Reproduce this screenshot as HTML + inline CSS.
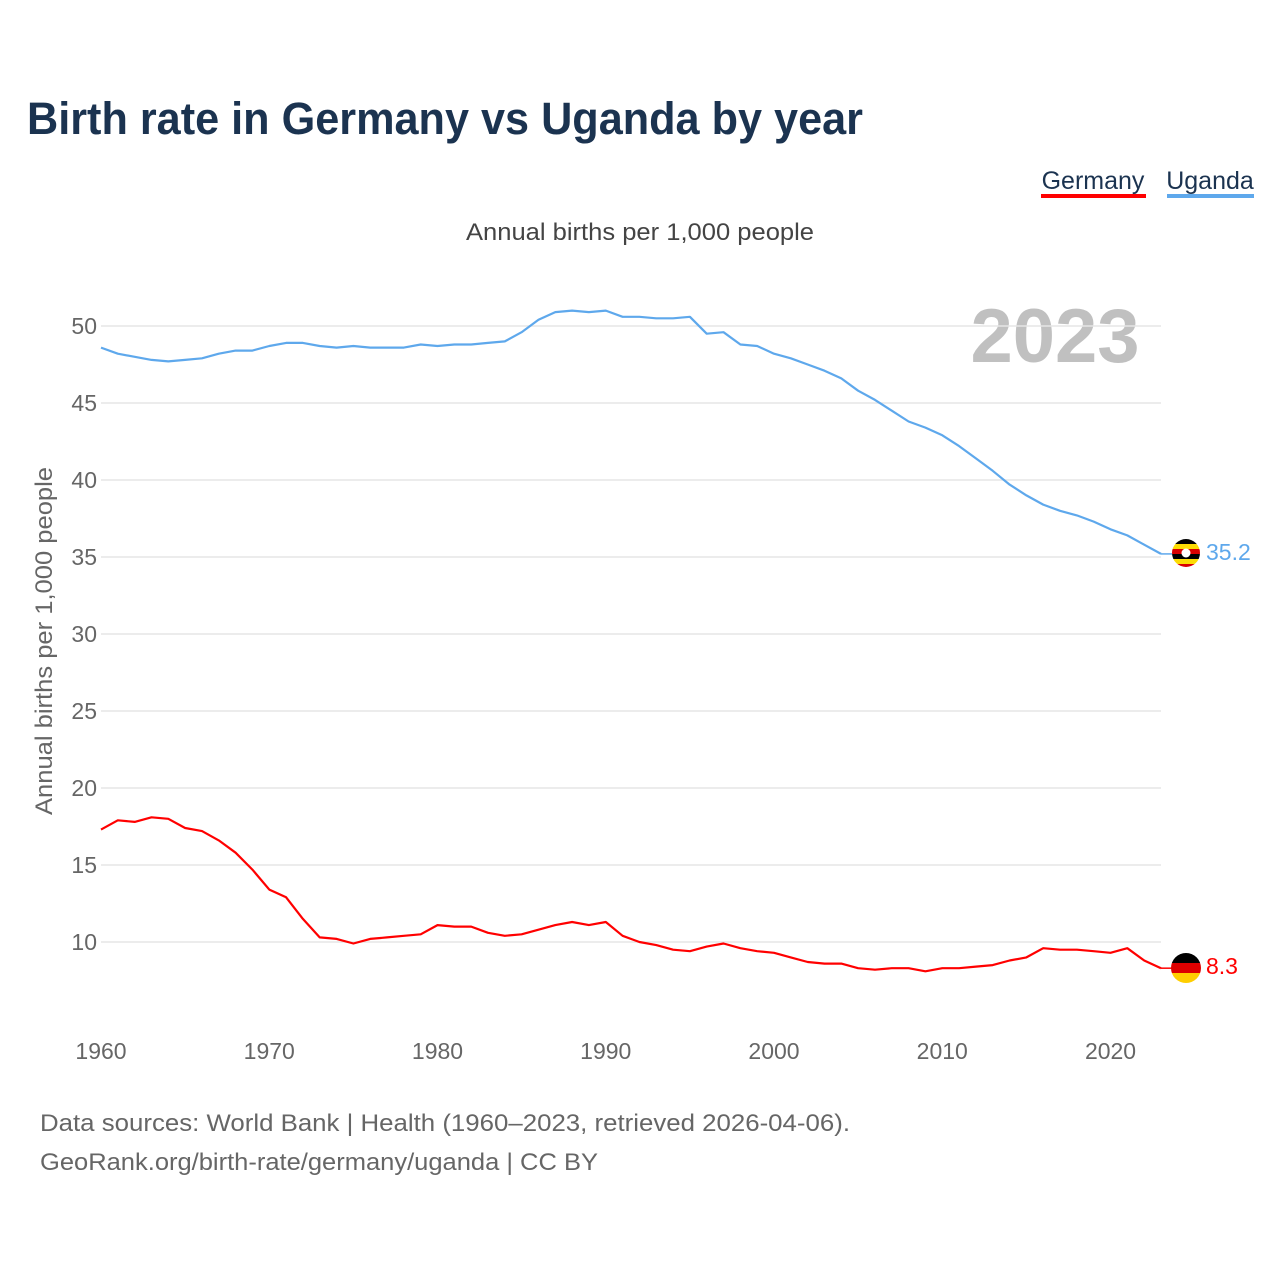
<!DOCTYPE html>
<html><head><meta charset="utf-8"><style>
body{margin:0;background:#fff;font-family:"Liberation Sans",sans-serif;}
</style></head><body>
<svg width="1280" height="1280" viewBox="0 0 1280 1280" xmlns="http://www.w3.org/2000/svg">
<rect width="1280" height="1280" fill="#fff"/>
<text x="27" y="134" font-size="45" font-weight="bold" fill="#1b3350" textLength="836" lengthAdjust="spacingAndGlyphs">Birth rate in Germany vs Uganda by year</text>
<g><text x="1093" y="189" font-size="25" fill="#1b3350" text-anchor="middle">Germany</text><rect x="1041" y="194" width="105" height="4" fill="#ff0000"/></g>
<g><text x="1210" y="189" font-size="25" fill="#1b3350" text-anchor="middle">Uganda</text><rect x="1167" y="194" width="87" height="4" fill="#5ea8ec"/></g>
<text x="466" y="240" font-size="24" fill="#444" textLength="348" lengthAdjust="spacingAndGlyphs">Annual births per 1,000 people</text>
<text x="1055" y="362" font-size="76" font-weight="bold" fill="#c0c0c0" text-anchor="middle">2023</text>
<text transform="translate(52,815) rotate(-90)" font-size="24" fill="#666" textLength="348" lengthAdjust="spacingAndGlyphs">Annual births per 1,000 people</text>
<g id="grid"></g><g id="lines"></g>
<g>
<clipPath id="cu"><circle cx="1186" cy="553" r="14"/></clipPath>
<g clip-path="url(#cu)"><rect x="1172" y="539" width="28" height="5" fill="#000"/><rect x="1172" y="544" width="28" height="5" fill="#fcdc04"/><rect x="1172" y="549" width="28" height="5" fill="#d90000"/><rect x="1172" y="554" width="28" height="5" fill="#000"/><rect x="1172" y="559" width="28" height="5" fill="#fcdc04"/><rect x="1172" y="564" width="28" height="5" fill="#d90000"/><circle cx="1186" cy="553" r="4.5" fill="#fff"/></g></g>
<g>
<clipPath id="cg"><circle cx="1186" cy="968" r="15"/></clipPath>
<g clip-path="url(#cg)"><rect x="1171" y="953" width="30" height="10" fill="#000"/><rect x="1171" y="963" width="30" height="10" fill="#dd0000"/><rect x="1171" y="973" width="30" height="10" fill="#ffce00"/></g></g>
<text x="1206" y="560" font-size="23" fill="#5ea8ec">35.2</text>
<text x="1206" y="974" font-size="23" fill="#ff0000">8.3</text>
<text x="40" y="1131" font-size="24" fill="#666" textLength="810" lengthAdjust="spacingAndGlyphs">Data sources: World Bank | Health (1960–2023, retrieved 2026-04-06).</text>
<text x="40" y="1170" font-size="24" fill="#666" textLength="558" lengthAdjust="spacingAndGlyphs">GeoRank.org/birth-rate/germany/uganda | CC BY</text>
</svg>
<script>
const years=[];for(let y=1960;y<=2023;y++)years.push(y);
const germany=[17.3,17.9,17.8,18.1,18.0,17.4,17.2,16.6,15.8,14.7,13.4,12.9,11.5,10.3,10.2,9.9,10.2,10.3,10.4,10.5,11.1,11.0,11.0,10.6,10.4,10.5,10.8,11.1,11.3,11.1,11.3,10.4,10.0,9.8,9.5,9.4,9.7,9.9,9.6,9.4,9.3,9.0,8.7,8.6,8.6,8.3,8.2,8.3,8.3,8.1,8.3,8.3,8.4,8.5,8.8,9.0,9.6,9.5,9.5,9.4,9.3,9.6,8.8,8.3];
const uganda=[48.6,48.2,48.0,47.8,47.7,47.8,47.9,48.2,48.4,48.4,48.7,48.9,48.9,48.7,48.6,48.7,48.6,48.6,48.6,48.8,48.7,48.8,48.8,48.9,49.0,49.6,50.4,50.9,51.0,50.9,51.0,50.6,50.6,50.5,50.5,50.6,49.5,49.6,48.8,48.7,48.2,47.9,47.5,47.1,46.6,45.8,45.2,44.5,43.8,43.4,42.9,42.2,41.4,40.6,39.7,39.0,38.4,38.0,37.7,37.3,36.8,36.4,35.8,35.2];
const yTicks=[10,15,20,25,30,35,40,45,50];
const xTicks=[1960,1970,1980,1990,2000,2010,2020];
const NS="http://www.w3.org/2000/svg";
const xs=y=>101+(y-1960)*(1161-101)/63;
const ys=v=>942-(v-10)*15.4;
const grid=document.getElementById('grid'),lines=document.getElementById('lines');
function mk(tag,attrs,parent,txt){const e=document.createElementNS(NS,tag);for(const k in attrs)e.setAttribute(k,attrs[k]);if(txt!==undefined)e.textContent=txt;parent.appendChild(e);return e;}
yTicks.forEach(v=>{
 const l=mk('line',{x1:101,x2:1161,y1:ys(v),y2:ys(v),stroke:'#e6e6e6','stroke-width':1.5},grid);
 
 
 const t=mk('text',{x:97,y:ys(v)+8,'font-size':23,fill:'#666','text-anchor':'end'},grid,String(v));
 
 
});
xTicks.forEach(y=>{
 const t=mk('text',{x:xs(y),y:1059,'font-size':23,fill:'#666','text-anchor':'middle'},grid,String(y));
 
 
});
function line(vals,color,name){
 const d=vals.map((v,i)=>(i?'L':'M')+xs(years[i]).toFixed(1)+','+ys(v).toFixed(1)).join(' ');
 const p=mk('path',{d:d,fill:'none',stroke:color,'stroke-width':2.2,'stroke-linejoin':'round'},lines);
 
 
 const last=vals[vals.length-1];
 const c=mk('line',{x1:xs(2023),x2:1172,y1:ys(last),y2:ys(last),stroke:color,'stroke-width':1.5},lines);
 
 
}
line(uganda,'#5ea8ec','uganda-line');
line(germany,'#ff0000','germany-line');
</script>
</body></html>
